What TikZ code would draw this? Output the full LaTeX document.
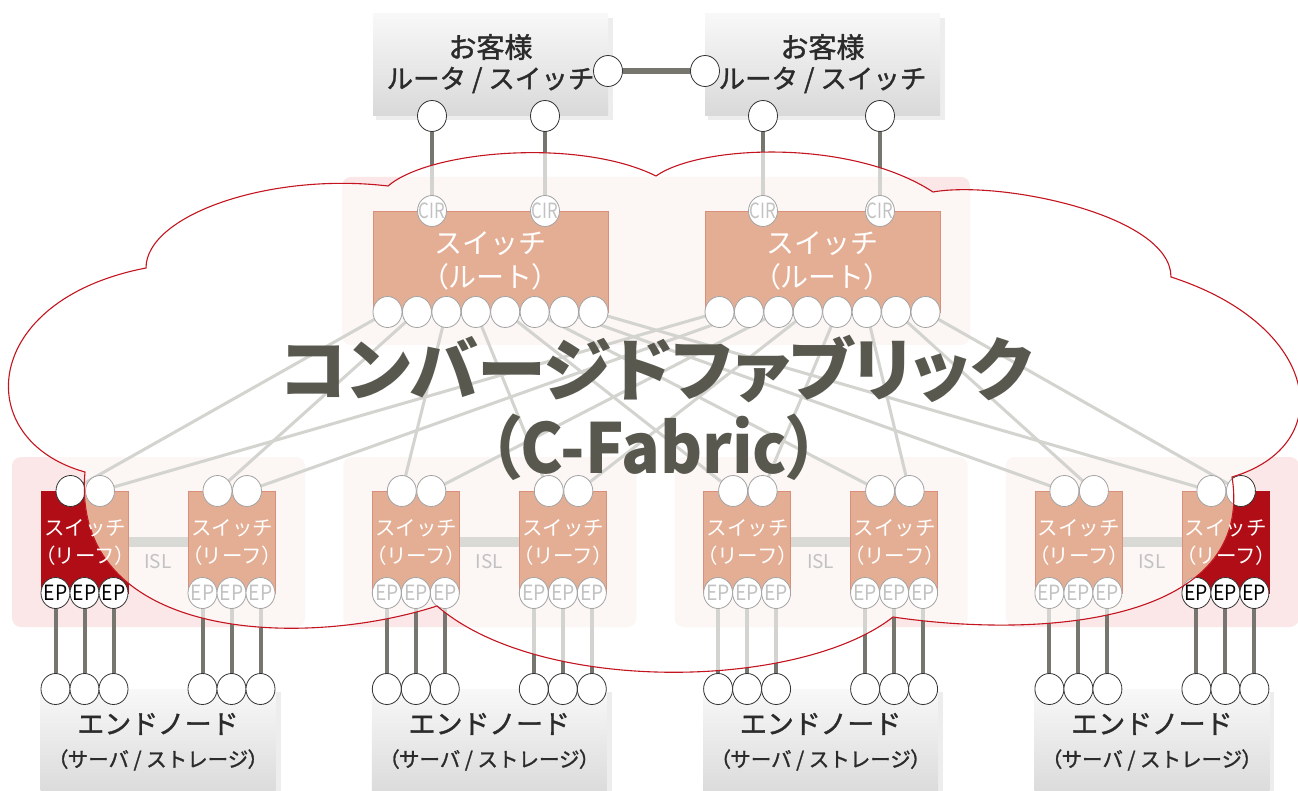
\documentclass[tikz,border=0pt]{standalone}
\usepackage{fontspec}
\setmainfont{Noto Sans CJK JP}
\newfontfamily\jpm{Noto Sans CJK JP}[FakeBold=1.3]
\newfontfamily\titlefont{Noto Sans CJK JP}[RawFeature=+palt]
\usetikzlibrary{shapes.geometric}
\definecolor{dline}{HTML}{76766E}
\definecolor{lline}{HTML}{D3D3CF}
\definecolor{islc}{HTML}{D9D9D5}
\definecolor{pinkout}{HTML}{FBE7E7}
\definecolor{pinkin}{HTML}{FCF6F5}
\definecolor{dred}{HTML}{B00D16}
\definecolor{salmon}{HTML}{E4AE95}
\definecolor{salmonedge}{HTML}{DA8F7B}
\definecolor{titlec}{HTML}{58584F}
\definecolor{cloudred}{HTML}{C3141F}
\definecolor{ringout}{HTML}{333333}
\definecolor{ringin}{HTML}{A3A3A3}
\definecolor{txtin}{HTML}{C2C2C2}
\definecolor{txtdark}{HTML}{2B2B2B}
\definecolor{boxtop}{HTML}{F8F8F8}
\definecolor{boxbot}{HTML}{D9D9D9}

\newcommand\fsz[2]{\fontsize{#1pt}{#2pt}\selectfont}
\newcommand\lpar{{\addfontfeature{RawFeature=+palt}（}}
\newcommand\rpar{{\addfontfeature{RawFeature=+palt}）}}

\def\cloudpath{(146,268) .. controls (146,215) and (270,172) .. (388,186)
 .. controls (430,150) and (580,138) .. (656,176)
 .. controls (700,145) and (850,138) .. (933,192)
 .. controls (1000,180) and (1171,215) .. (1171,277)
 .. controls (1320,325) and (1340,445) .. (1232,477)
 .. controls (1255,620) and (1050,640) .. (893,617)
 .. controls (800,690) and (540,695) .. (437,606)
 .. controls (300,650) and (70,640) .. (85,472)
 .. controls (-30,440) and (-20,300) .. (146,268) -- cycle}

\newcommand\midscene[1]{%
  \fill[grpbg] (342,177) rectangle (970,345);
  \foreach \g in {0,1,2,3}{\fill[grpbg] ({12+331.3*\g},457) rectangle ++(293,170);}
  \foreach \n in {1,2,3,4}{\draw[upline] (cb\n) -- (cir\n);}
  \foreach \i in {1,...,8}{\draw[meshline] (ra\i) -- (lu\i-1); \draw[meshline] (rb\i) -- (lu\i-2);}
  \foreach \k in {1,...,8}{\foreach \j in {1,2,3}{\draw[downline] (ep\k-\j) -- (bt\k-\j);}}
  \foreach \g in {0,1,2,3}{\draw[islbar] (isl\g-a) -- (isl\g-b);}
  \node[rootsw] (#1rs1) at (490.5,261.5) {};
  \node[rootsw] (#1rs2) at (822.5,261.5) {};
  \foreach \k in {1,...,8}{\node[leafsw] (#1ls\k) at (lf\k) {};}
  \foreach \n in {1,2,3,4}{\node[ringc] (#1circ\n) at (cir\n) {};}
  \foreach \i in {1,...,8}{\node[ringc] (#1rpa\i) at (ra\i) {}; \node[ringc] (#1rpb\i) at (rb\i) {};}
  \foreach \k in {1,...,8}{\node[ringc] (#1up\k-1) at (lu\k-1) {}; \node[ringc] (#1up\k-2) at (lu\k-2) {};
    \foreach \j in {1,2,3}{\node[ringc] (#1epc\k-\j) at (ep\k-\j) {};}}
}

\begin{document}
\begin{tikzpicture}[x=1pt,y=-1pt,
  ringc/.style={ellipse, minimum width=29pt, minimum height=31pt, inner sep=0pt, fill=white, draw=ringout, line width=0.8pt},
  grpbg/.style={fill=pinkout, rounded corners=9pt},
  upline/.style={draw=dline, line width=4.5pt},
  meshline/.style={draw=dline, line width=3pt},
  downline/.style={draw=dline, line width=4pt},
  islbar/.style={draw=dline, line width=10pt},
  sw/.style={fill=dred, draw=dred, line width=0.6pt, inner sep=0pt, outer sep=0pt},
  rootsw/.style={sw, minimum width=235pt, minimum height=101pt},
  leafsw/.style={sw, anchor=north west, minimum width=87pt, minimum height=102pt},
  graybox/.style={top color=boxtop, bottom color=boxbot, inner sep=0pt, outer sep=0pt, minimum width=235pt},
  lbl/.style={inner sep=0pt, outer sep=0pt}
]
\useasboundingbox (0,0) rectangle (1298,791);
\fill[white] (0,0) rectangle (1298,791);

% ---------- coordinates ----------
\coordinate (cr1) at (608,71); \coordinate (cl2) at (705,71);
\coordinate (cb1) at (432,116); \coordinate (cb2) at (545,116);
\coordinate (cb3) at (763,116); \coordinate (cb4) at (880,116);
\coordinate (cir1) at (432,211); \coordinate (cir2) at (545,211);
\coordinate (cir3) at (763,211); \coordinate (cir4) at (880,211);
\foreach \i in {1,...,8}{
  \coordinate (ra\i) at ({387.5+29.43*(\i-1)},312);
  \coordinate (rb\i) at ({719.5+29.43*(\i-1)},312);
}
\foreach \k in {1,...,8}{
  \pgfmathsetmacro\lx{12+331.3*floor((\k-1)/2)+29+147*mod(\k-1,2)}
  \coordinate (lf\k) at (\lx,491);
  \coordinate (lu\k-1) at (\lx+29.5,491);
  \coordinate (lu\k-2) at (\lx+59,491);
  \coordinate (lta\k) at (\lx+44,528);
  \coordinate (ltb\k) at (\lx+44,556);
  \foreach \j in {1,2,3}{
    \coordinate (ep\k-\j) at (\lx-14.5+29*\j,593);
    \coordinate (bt\k-\j) at (\lx-14.5+29*\j,689);
  }
}
\foreach \g in {0,1,2,3}{
  \pgfmathsetmacro\gx{12+331.3*\g}
  \coordinate (isl\g-a) at (\gx+116,542);
  \coordinate (isl\g-b) at (\gx+176,542);
  \coordinate (islt\g) at (\gx+146,562);
  \coordinate (en\g) at (\gx+146,689);
  \coordinate (ent\g) at (\gx+146,724);
  \coordinate (ens\g) at (\gx+146,760);
}

% ---------- customer boxes ----------
\fill[black, opacity=0.07] (376,18) rectangle (613,120);
\fill[black, opacity=0.07] (708,18) rectangle (945,120);
\node[graybox, minimum height=102pt] (cust1) at (490.5,65) {};
\node[graybox, minimum height=102pt] (cust2) at (822.5,65) {};

% ---------- end node boxes ----------
\foreach \g in {0,1,2,3}{
  \fill[black, opacity=0.07] ([xshift=3pt]en\g) ++(-117.5,3) rectangle ++(237,120);
  \node[graybox, anchor=north, minimum height=110pt] (endn\g) at (en\g) {};
}

% ---------- customer link ----------
\draw[draw=dline, line width=6pt] (cr1) -- (cl2);

% ---------- pass 1 : outside colours ----------
\midscene{}

% ---------- pass 2 : inside the cloud ----------
\begin{scope}
  \clip \cloudpath;
  \fill[white] (0,0) rectangle (1298,791);
  \tikzset{
    grpbg/.style={fill=pinkin, rounded corners=9pt},
    upline/.style={draw=lline, line width=4.5pt},
    meshline/.style={draw=lline, line width=3pt},
    downline/.style={draw=lline, line width=4pt},
    islbar/.style={draw=islc, line width=10pt},
    sw/.style={fill=salmon, draw=salmonedge, line width=0.6pt, inner sep=0pt, outer sep=0pt},
    ringc/.style={ellipse, minimum width=29pt, minimum height=31pt, inner sep=0pt, fill=white, draw=ringin, line width=0.8pt}
  }
  \midscene{i}
\end{scope}
\draw[draw=cloudred, line width=1.1pt] \cloudpath;

% ---------- outside circles ----------
\node[ringc] (cr1c) at (cr1) {};
\node[ringc] (cl2c) at (cl2) {};
\foreach \n in {1,2,3,4}{\node[ringc] (cbc\n) at (cb\n) {};}
\foreach \k in {1,...,8}{\foreach \j in {1,2,3}{\node[ringc] (btc\k-\j) at (bt\k-\j) {};}}

% ---------- texts ----------
\foreach \x/\n in {490.5/1, 822.5/2}{
  \node[lbl, font=\jpm\fsz{28}{28}, text=txtdark] (cu\n-a) at (\x,47) {お客様};
  \node[lbl, font=\jpm\fsz{26.5}{26.5}, text=txtdark] (cu\n-b) at (\x,80) {ルータ / スイッチ};
  \node[lbl, font=\fsz{28}{28}, text=white] (rl\n-a) at (\x,244) {スイッチ};
  \node[lbl, font=\fsz{28}{28}, text=white] (rl\n-b) at (\x,277) {\lpar ルート\rpar};
}
\foreach \n in {1,2,3,4}{\node[lbl, font=\fsz{21}{21}, text=txtin, xscale=0.8] (cirt\n) at (cir\n) {CIR};}
\foreach \k in {1,...,8}{
  \node[lbl, font=\fsz{20.5}{20.5}, text=white] (lt\k-a) at (lta\k) {スイッチ};
  \node[lbl, font=\fsz{20.5}{20.5}, text=white] (lt\k-b) at (ltb\k) {\lpar リーフ\rpar};
}
\foreach \k/\c in {1/black,2/txtin,3/txtin,4/txtin,5/txtin,6/txtin,7/txtin,8/black}{
  \foreach \j in {1,2,3}{\node[lbl, font=\fsz{21}{21}, text=\c, xscale=0.92] (ept\k-\j) at (ep\k-\j) {EP};}
}
\foreach \g in {0,1,2,3}{
  \node[lbl, font=\fsz{19}{19}, text=txtin] (islL\g) at (islt\g) {ISL};
  \node[lbl, font=\jpm\fsz{27}{27}, text=txtdark] (entx\g) at (ent\g) {エンドノード};
  \node[lbl, font=\jpm\fsz{20.5}{20.5}, text=txtdark] (ensx\g) at (ens\g) {\lpar サーバ / ストレージ\rpar};
}
\node[lbl, font=\titlefont\bfseries\fsz{69}{69}, text=titlec] (title1) at (656,369) {コンバージドファブリック};
\node[lbl, font=\titlefont\bfseries\fsz{69}{69}, text=titlec, xscale=0.93] (title2) at (654,447) {（C-Fabric）};
\end{tikzpicture}
\end{document}
